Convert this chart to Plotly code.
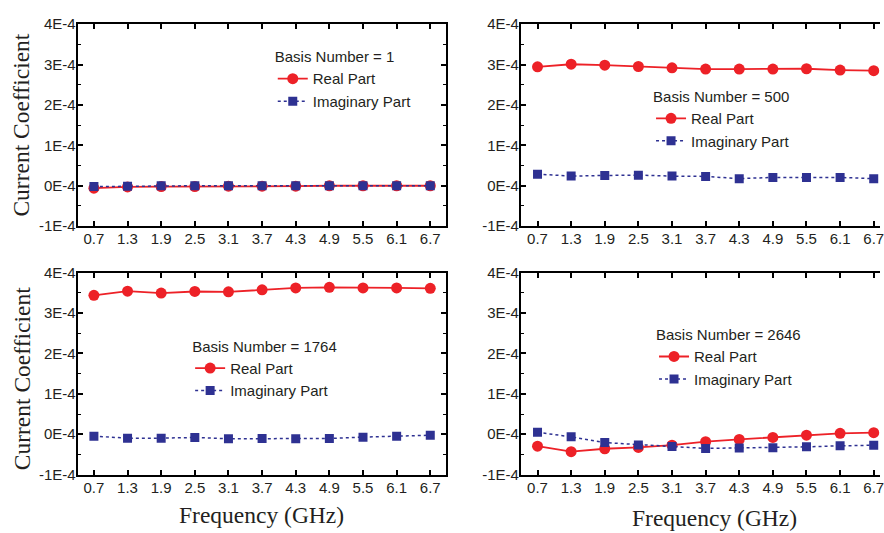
import plotly.graph_objects as go

# Frequency sweep (GHz)
freq_ghz = [0.7, 1.3, 1.9, 2.5, 3.1, 3.7, 4.3, 4.9, 5.5, 6.1, 6.7]

# Current coefficients, in units of 1E-4
basis_numbers = [1, 500, 1764, 2646]
real_e4 = {
    1:    [-0.06, -0.03, -0.02, -0.02, -0.01, -0.01, -0.01, 0.00, 0.00, 0.00, 0.00],
    500:  [2.945, 3.009, 2.985, 2.953, 2.921, 2.889, 2.889, 2.889, 2.897, 2.865, 2.849],
    1764: [3.437, 3.541, 3.493, 3.533, 3.525, 3.573, 3.620, 3.636, 3.620, 3.620, 3.612],
    2646: [-0.295, -0.430, -0.359, -0.327, -0.271, -0.183, -0.127, -0.080, -0.024, 0.024, 0.040],
}
imag_e4 = {
    1:    [-0.02, -0.01, 0.00, 0.00, 0.00, 0.00, 0.00, 0.00, 0.00, 0.00, 0.00],
    500:  [0.287, 0.239, 0.255, 0.263, 0.239, 0.231, 0.176, 0.207, 0.207, 0.207, 0.176],
    1764: [-0.048, -0.096, -0.096, -0.080, -0.112, -0.104, -0.112, -0.104, -0.072, -0.048, -0.024],
    2646: [0.048, -0.064, -0.207, -0.263, -0.303, -0.351, -0.343, -0.335, -0.311, -0.287, -0.271],
}
SCALE = 1e-4

y_tickvals = [-1e-4, 0, 1e-4, 2e-4, 3e-4, 4e-4]
y_ticktext = ["-1E-4", "0E-4", "1E-4", "2E-4", "3E-4", "4E-4"]

W, H = 884, 533
RED = "rgb(237,33,39)"
BLUE = "rgb(46,49,146)"
INK = "#231F20"
SANS = "Liberation Sans, Arial, sans-serif"
SERIF = "Liberation Serif, Times New Roman, serif"

# panel frames in pixels: (left, right, top, bottom)
panels = [
    (78, 448, 15.7, 224.3),
    (523.3, 884, 15.7, 224.3),
    (78, 448, 272.3, 481),
    (523.3, 884, 272.3, 481),
]
x_ranges = [(0.41, 6.98), (0.404, 6.812), (0.41, 6.98), (0.404, 6.812)]

# legend anchor (left, top) in pixels per panel
legend_pos = [(274, 35), (654, 76), (191, 334), (657, 322)]

fig = go.Figure()
layout = dict(
    width=W, height=H,
    margin=dict(l=0, r=0, t=0, b=0),
    paper_bgcolor="white", plot_bgcolor="white",
    font=dict(family=SANS, size=15, color=INK),
    showlegend=True,
)

for i, bn in enumerate(basis_numbers):
    n = "" if i == 0 else str(i + 1)
    xa, ya = "x" + n, "y" + n
    lg = "legend" + n
    fig.add_trace(go.Scatter(
        x=freq_ghz, y=[v * SCALE for v in real_e4[bn]],
        xaxis=xa, yaxis=ya, legend=lg, name="Real Part",
        mode="lines+markers",
        line=dict(color=RED, width=1.8),
        marker=dict(symbol="circle", size=11, color=RED),
    ))
    fig.add_trace(go.Scatter(
        x=freq_ghz, y=[v * SCALE for v in imag_e4[bn]],
        xaxis=xa, yaxis=ya, legend=lg, name="Imaginary Part",
        mode="lines+markers",
        line=dict(color=BLUE, width=1.5, dash="dot"),
        marker=dict(symbol="square", size=9, color=BLUE),
    ))

    l, r, t, b = panels[i]
    right_clipped = r >= W
    layout["xaxis" + n] = dict(
        domain=[l / W, r / W], range=list(x_ranges[i]), anchor=ya,
        tickvals=freq_ghz, ticktext=[f"{v:.1f}" for v in freq_ghz],
        ticks="inside", ticklen=5, tickwidth=1.5, tickcolor="black",
        ticklabeloverflow="allow", ticklabelstandoff=-2,
        showline=True, linecolor="black", linewidth=2,
        mirror="allticks", showgrid=False, zeroline=False,
        tickfont=dict(family=SANS, size=15, color=INK),
    )
    layout["yaxis" + n] = dict(
        domain=[1 - b / H, 1 - t / H], range=[-1e-4, 4e-4], anchor=xa,
        tickvals=y_tickvals, ticktext=y_ticktext,
        ticks="inside", ticklen=5, tickwidth=1.5, tickcolor="black",
        ticklabelstandoff=-3,
        minor=dict(dtick=0.5e-4, tick0=0, ticks="inside", ticklen=3,
                   tickwidth=1.2, tickcolor="black"),
        showline=True, linecolor="black", linewidth=2,
        mirror=False if right_clipped else "allticks",
        showgrid=False, zeroline=False,
        tickfont=dict(family=SANS, size=15, color=INK),
    )
    lx, ly = legend_pos[i]
    layout[lg] = dict(
        x=lx / W, y=1 - ly / H, xanchor="left", yanchor="top",
        bgcolor="rgba(0,0,0,0)", borderwidth=0,
        title=dict(text=f"Basis Number = {bn}", font=dict(family=SANS, size=15, color=INK)),
        font=dict(family=SANS, size=15, color=INK),
        itemsizing="trace", tracegroupgap=0,
    )

annotations = []
# y-axis titles on the left column
for yc in (120, 382):
    annotations.append(dict(
        text="Current Coefficient", xref="paper", yref="paper",
        x=21.5 / W, y=1 - yc / H, xanchor="center", yanchor="middle",
        textangle=-90, showarrow=False,
        font=dict(family=SERIF, size=23.5, color=INK),
    ))
# x-axis titles on the bottom row
for xc, yc in ((263, 523), (718, 526)):
    annotations.append(dict(
        text="Frequency (GHz)", xref="paper", yref="paper",
        x=xc / W, y=1 - yc / H, xanchor="center", yanchor="middle",
        showarrow=False,
        font=dict(family=SERIF, size=23.5, color=INK),
    ))
layout["annotations"] = annotations

fig.update_layout(**layout)
fig.write_html("out.html")
